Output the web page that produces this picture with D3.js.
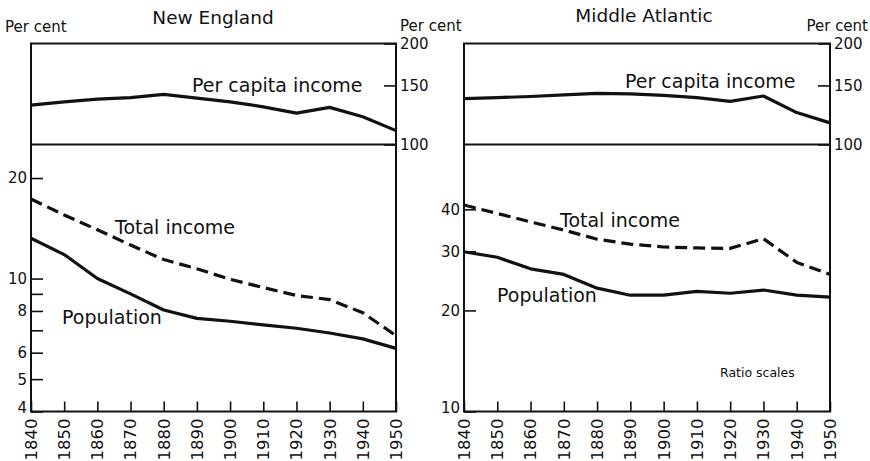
<!DOCTYPE html>
<html lang="en">
<head>
    <meta charset="UTF-8">
    <title>Regional shares</title>
    <script src="https://cdn.jsdelivr.net/npm/d3@7/dist/d3.min.js"></script>
    <style>
        body { margin: 0; background: #fff; }
        text { font-family: "DejaVu Sans", sans-serif; fill: #111; }
    </style>
</head>
<body>

<script>

    // decades on the x axis
    var years = [1840, 1850, 1860, 1870, 1880, 1890, 1900, 1910, 1920, 1930, 1940, 1950];

    // New England, per cent of the United States
    var neCapita = [131, 134, 136.5, 138, 141, 137.5, 134, 129.5, 124, 129, 121, 110];
    var neTotal  = [17.3, 15.5, 14.0, 12.6, 11.4, 10.7, 9.95, 9.4, 8.9, 8.65, 7.9, 6.75];
    var nePop    = [13.2, 11.8, 10.0, 9.0, 8.05, 7.6, 7.45, 7.27, 7.1, 6.87, 6.6, 6.18];

    // Middle Atlantic, per cent of the United States
    var maCapita = [137, 138, 139, 140.5, 142, 141.5, 140, 138, 134.5, 139.5, 124.5, 116];
    var maTotal  = [41.2, 38.9, 36.7, 34.7, 32.6, 31.5, 30.9, 30.7, 30.6, 32.7, 27.8, 25.6];
    var maPop    = [29.9, 28.8, 26.6, 25.6, 23.3, 22.2, 22.2, 22.8, 22.5, 23.0, 22.2, 21.9];

    // tick values
    var capitaTicks = [100, 150, 200];
    var neLowTicks = [4, 5, 6, 7, 8, 9, 10, 20];
    var neLowLabels = [4, 5, 6, 8, 10, 20];
    var maLowTicks = [10, 20, 30, 40];
    var maLowLabels = [10, 20, 30, 40];

    var width = 870;
    var height = 461;

    var yTop = 43.5, yMid = 144.5, yBottom = 411.5;

    var svg = d3.select("body").append("svg")
        .attr("width", width)
        .attr("height", height)
        .attr("viewBox", [0, 0, width, height]);

    var panels = [
        {
            title: "New England", titleX: 213, titleY: 24,
            x0: 31, x1: 396,
            capita: neCapita, total: neTotal, pop: nePop,
            lowDomain: [4, 25.2], lowTicks: neLowTicks, lowLabels: neLowLabels,
            capLabel: [192, 92], totLabel: [115, 234], popLabel: [62, 324],
            perCentX: 400, perCentAnchor: "start",
            leftPerCent: true
        },
        {
            title: "Middle Atlantic", titleX: 644, titleY: 22,
            x0: 464, x1: 830,
            capita: maCapita, total: maTotal, pop: maPop,
            lowDomain: [10, 62.4], lowTicks: maLowTicks, lowLabels: maLowLabels,
            capLabel: [625, 88], totLabel: [560, 227], popLabel: [497, 302],
            perCentX: 868, perCentAnchor: "end",
            leftPerCent: false
        }
    ];

    panels.forEach(function (p) {
        var g = svg.append("g");

        var xScale = d3.scaleLinear()
            .domain([1840, 1950])
            .range([p.x0, p.x1]);
        var yCap = d3.scaleLog()
            .domain([100, 200])
            .range([yMid, yTop]);
        var yLow = d3.scaleLog()
            .domain(p.lowDomain)
            .range([yBottom, yMid]);

        // frame
        g.append("rect")
            .attr("x", p.x0).attr("y", yTop)
            .attr("width", p.x1 - p.x0).attr("height", yBottom - yTop)
            .attr("fill", "none").attr("stroke", "#111").attr("stroke-width", 2);
        g.append("line")
            .attr("x1", p.x0).attr("x2", p.x1)
            .attr("y1", yMid).attr("y2", yMid)
            .attr("stroke", "#111").attr("stroke-width", 2);

        // x ticks, pointing up from the bottom
        var xAxis = d3.axisTop(xScale)
            .tickValues(years)
            .tickSize(10)
            .tickFormat("");
        var xg = g.append("g")
            .attr("transform", "translate(0," + yBottom + ")")
            .call(xAxis);
        xg.select(".domain").remove();
        xg.selectAll(".tick line").attr("stroke", "#111").attr("stroke-width", 1.6);

        g.selectAll(".yearlab")
            .data(years)
            .enter().append("text")
            .attr("transform", function (d) {
                return "translate(" + xScale(d) + "," + (yBottom + 7) + ") rotate(-90)";
            })
            .attr("text-anchor", "end")
            .attr("dy", "0.36em")
            .attr("font-size", "16.5px")
            .text(function (d) { return d; });

        // right axis: per capita
        var capAxis = d3.axisLeft(yCap)
            .tickValues(capitaTicks)
            .tickSize(12)
            .tickFormat("");
        var cg = g.append("g")
            .attr("transform", "translate(" + p.x1 + ",0)")
            .call(capAxis);
        cg.select(".domain").remove();
        cg.selectAll(".tick line").attr("stroke", "#111").attr("stroke-width", 1.6);
        g.selectAll(".caplab")
            .data(capitaTicks)
            .enter().append("text")
            .attr("x", p.x1 + 4)
            .attr("y", function (d) { return yCap(d); })
            .attr("dy", "0.36em")
            .attr("font-size", "15px")
            .text(function (d) { return d; });

        // left axis: total income and population
        var lowAxis = d3.axisRight(yLow)
            .tickValues(p.lowTicks)
            .tickSize(12)
            .tickFormat("");
        var lg = g.append("g")
            .attr("transform", "translate(" + p.x0 + ",0)")
            .call(lowAxis);
        lg.select(".domain").remove();
        lg.selectAll(".tick line").attr("stroke", "#111").attr("stroke-width", 1.6);
        g.selectAll(".lowlab")
            .data(p.lowLabels)
            .enter().append("text")
            .attr("x", p.x0 - 4)
            .attr("y", function (d) { return Math.min(yLow(d), yBottom - 4); })
            .attr("dy", "0.36em")
            .attr("text-anchor", "end")
            .attr("font-size", "15px")
            .text(function (d) { return d; });

        // lines
        var capLine = d3.line()
            .x(function (d, i) { return xScale(years[i]); })
            .y(function (d) { return yCap(d); });
        var lowLine = d3.line()
            .x(function (d, i) { return xScale(years[i]); })
            .y(function (d) { return yLow(d); });

        g.append("path")
            .datum(p.capita)
            .attr("fill", "none")
            .attr("stroke", "#111")
            .attr("stroke-width", 3.2)
            .attr("stroke-linejoin", "round")
            .attr("d", capLine);
        g.append("path")
            .datum(p.total)
            .attr("fill", "none")
            .attr("stroke", "#111")
            .attr("stroke-width", 3.2)
            .attr("stroke-dasharray", "12,6")
            .attr("d", lowLine);
        g.append("path")
            .datum(p.pop)
            .attr("fill", "none")
            .attr("stroke", "#111")
            .attr("stroke-width", 3.2)
            .attr("stroke-linejoin", "round")
            .attr("d", lowLine);

        // labels
        g.append("text")
            .attr("x", p.titleX).attr("y", p.titleY)
            .attr("text-anchor", "middle")
            .attr("font-size", "18.5px")
            .text(p.title);
        g.append("text")
            .attr("x", p.capLabel[0]).attr("y", p.capLabel[1])
            .attr("font-size", "19px")
            .text("Per capita income");
        g.append("text")
            .attr("x", p.totLabel[0]).attr("y", p.totLabel[1])
            .attr("font-size", "19px")
            .text("Total income");
        g.append("text")
            .attr("x", p.popLabel[0]).attr("y", p.popLabel[1])
            .attr("font-size", "19px")
            .text("Population");

        g.append("text")
            .attr("x", p.perCentX).attr("y", 31)
            .attr("text-anchor", p.perCentAnchor)
            .attr("font-size", "15px")
            .text("Per cent");
        if (p.leftPerCent) {
            g.append("text")
                .attr("x", 5).attr("y", 32)
                .attr("font-size", "15px")
                .text("Per cent");
        }
    });

    svg.append("text")
        .attr("x", 720).attr("y", 377)
        .attr("font-size", "12.5px")
        .text("Ratio scales");

</script>

</body>
</html>
